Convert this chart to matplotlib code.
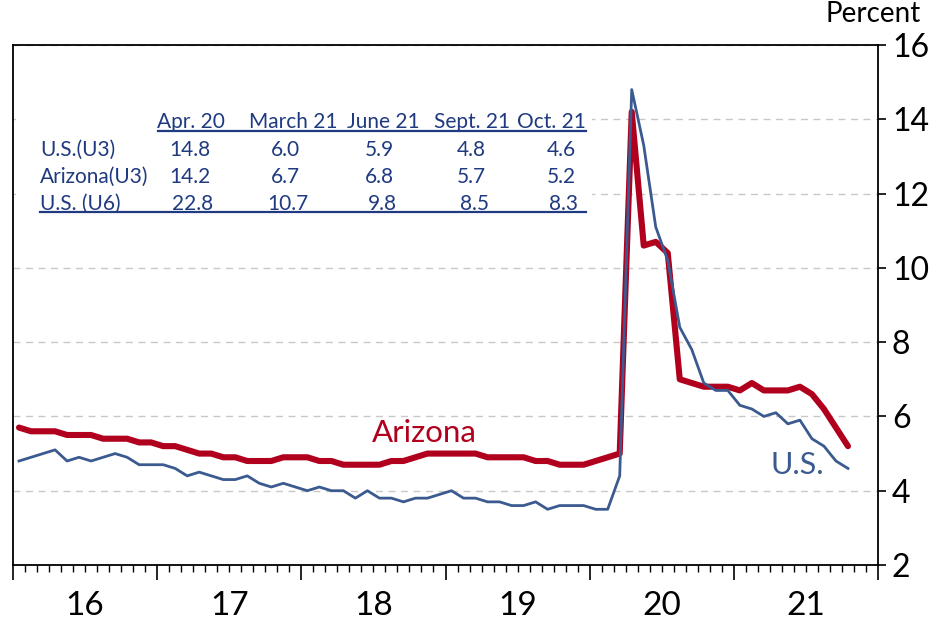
import matplotlib
matplotlib.use("Agg")
import matplotlib.pyplot as plt
from matplotlib.ticker import MultipleLocator, FuncFormatter, NullFormatter
from matplotlib.patches import Rectangle
from matplotlib.lines import Line2D

plt.rcParams["font.family"] = ["Lato", "DejaVu Sans"]

# ==========================================
# DATA  (monthly, Jan 2016 - Oct 2021)
# ==========================================

start_year = 2016

us = [
    4.8, 4.9, 5.0, 5.1, 4.8, 4.9, 4.8, 4.9, 5.0, 4.9, 4.7, 4.7,
    4.7, 4.6, 4.4, 4.5, 4.4, 4.3, 4.3, 4.4, 4.2, 4.1, 4.2, 4.1,
    4.0, 4.1, 4.0, 4.0, 3.8, 4.0, 3.8, 3.8, 3.7, 3.8, 3.8, 3.9,
    4.0, 3.8, 3.8, 3.7, 3.7, 3.6, 3.6, 3.7, 3.5, 3.6, 3.6, 3.6,
    3.5, 3.5, 4.4, 14.8, 13.3, 11.1, 10.2, 8.4, 7.8, 6.9, 6.7, 6.7,
    6.3, 6.2, 6.0, 6.1, 5.8, 5.9, 5.4, 5.2, 4.8, 4.6,
]

arizona = [
    5.7, 5.6, 5.6, 5.6, 5.5, 5.5, 5.5, 5.4, 5.4, 5.4, 5.3, 5.3,
    5.2, 5.2, 5.1, 5.0, 5.0, 4.9, 4.9, 4.8, 4.8, 4.8, 4.9, 4.9,
    4.9, 4.8, 4.8, 4.7, 4.7, 4.7, 4.7, 4.8, 4.8, 4.9, 5.0, 5.0,
    5.0, 5.0, 5.0, 4.9, 4.9, 4.9, 4.9, 4.8, 4.8, 4.7, 4.7, 4.7,
    4.8, 4.9, 5.0, 14.2, 10.6, 10.7, 10.4, 7.0, 6.9, 6.8, 6.8, 6.8,
    6.7, 6.9, 6.7, 6.7, 6.7, 6.8, 6.6, 6.2, 5.7, 5.2,
]

table_cols = ["Apr. 20", "March 21", "June 21", "Sept. 21", "Oct. 21"]
table_rows = ["U.S.(U3)", "Arizona(U3)", "U.S. (U6)"]
table_vals = [
    [14.8, 6.0, 5.9, 4.8, 4.6],
    [14.2, 6.7, 6.8, 5.7, 5.2],
    [22.8, 10.7, 9.8, 8.5, 8.3],
]

# ==========================================
# STYLE
# ==========================================

W, H = 941, 621
red = "#b0001e"
blue = "#3b5a8f"
navy = "#1f3a80"


def fx(px):
    return px / W


def fy(py):
    return 1 - py / H


x = [start_year + (i + 0.5) / 12 for i in range(len(us))]

fig = plt.figure(figsize=(W / 100, H / 100), dpi=100)
ax = fig.add_axes([fx(13), fy(565), fx(878) - fx(13), fy(45) - fy(565)])

ax.plot(x, us, color=blue, linewidth=2.0, zorder=3)
ax.plot(x, arizona, color=red, linewidth=4.4, zorder=2,
        solid_joinstyle="round", solid_capstyle="round")

ax.set_xlim(2016, 2022)
ax.set_ylim(2, 16)

# y axis on the right
ax.yaxis.tick_right()
ax.yaxis.set_major_locator(MultipleLocator(2))
ax.tick_params(axis="y", which="major", length=6, width=1.2,
               labelsize=23, pad=4, direction="out")
ax.set_axisbelow(True)
ax.yaxis.grid(True, linestyle=(0, (5, 4)), color="#c8c8c8", linewidth=1.0)

# x axis: years as major, months as minor, labels at mid-year
ax.xaxis.set_major_locator(MultipleLocator(1))
ax.xaxis.set_major_formatter(NullFormatter())
ax.xaxis.set_minor_locator(MultipleLocator(1 / 12))


def mid_year(v, pos):
    m = round(v * 12)
    if m % 12 == 6:
        return str((m // 12) % 100)
    return ""


ax.xaxis.set_minor_formatter(FuncFormatter(mid_year))
ax.tick_params(axis="x", which="major", length=11, width=1.2, direction="out")
ax.tick_params(axis="x", which="minor", length=5, width=1.0, direction="out",
               labelsize=24, pad=14)

for s in ax.spines.values():
    s.set_linewidth(1.3)

# series labels
ax.text(2018.85, 5.55, "Arizona", color=red, fontsize=22.5,
        ha="center", va="center")
ax.text(2021.44, 4.7, "U.S.", color=blue, fontsize=22,
        ha="center", va="center")

fig.text(fx(873), fy(0.5), "Percent", fontsize=20, ha="center",
         va="top")

# ==========================================
# TABLE
# ==========================================

fig.patches.append(Rectangle((fx(16), fy(218)), fx(592) - fx(16),
                             fy(100) - fy(218), transform=fig.transFigure,
                             facecolor="white", edgecolor="none", zorder=1))

head_x = [191, 293, 383, 472, 551]
val_x = [190, 285, 379, 471, 561]
row_y = [150, 177, 204]

for cx, name in zip(head_x, table_cols):
    fig.text(fx(cx), fy(122), name, color=navy, fontsize=15,
             ha="center", va="center", zorder=2)

for r, (label, vals) in enumerate(zip(table_rows, table_vals)):
    fig.text(fx(40), fy(row_y[r]), label, color=navy, fontsize=15,
             ha="left", va="center", zorder=2)
    for cx, v in zip(val_x, vals):
        fig.text(fx(cx + (3 if r == 2 else 0)), fy(row_y[r]), f"{v:.1f}",
                 color=navy, fontsize=15, ha="center", va="center",
                 zorder=2)

fig.lines.append(Line2D([fx(158), fx(586)], [fy(131), fy(131)],
                        transform=fig.transFigure, color=navy,
                        linewidth=1.6, zorder=2))
fig.lines.append(Line2D([fx(40), fx(586)], [fy(212), fy(212)],
                        transform=fig.transFigure, color=navy,
                        linewidth=1.6, zorder=2))

fig.savefig("out.png", dpi=100)
plt.close(fig)
